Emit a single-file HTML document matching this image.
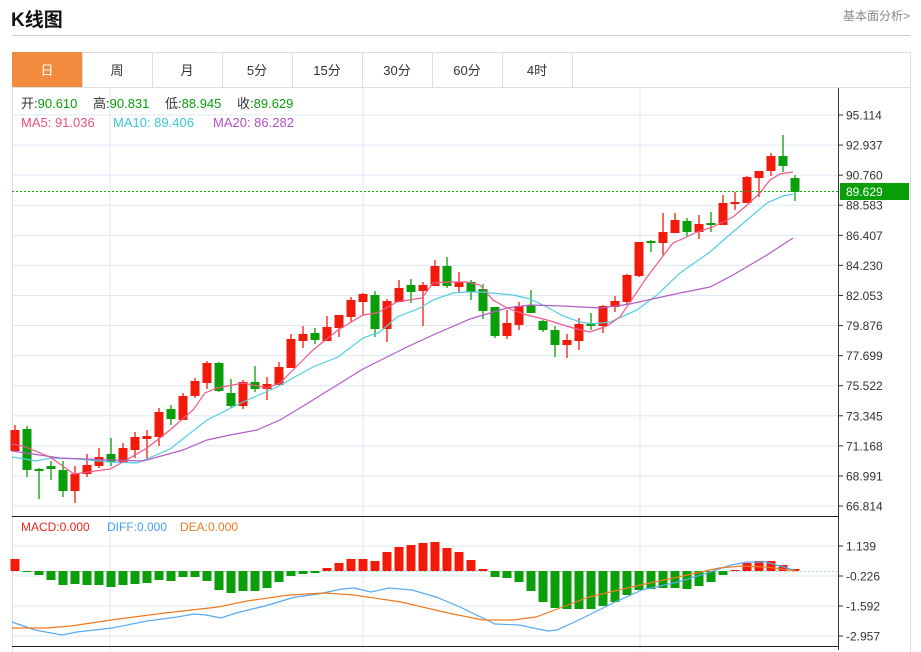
<!DOCTYPE html>
<html><head><meta charset="utf-8"><style>
body{margin:0;background:#fff;font-family:"Liberation Sans","Noto Sans CJK SC",sans-serif;}
#wrap{position:relative;width:921px;height:652px;overflow:hidden;}
.t{position:absolute;white-space:nowrap;}
</style></head><body><div id="wrap">
<div class="t" style="left:11px;top:5px;font-size:19px;font-weight:bold;color:#111;">K线图</div>
<div class="t" style="left:843px;top:7px;font-size:12px;color:#888;">基本面分析&gt;</div>
<div style="position:absolute;left:12px;top:35px;width:898px;height:1px;background:#ccc"></div>
<svg id="s" width="921" height="652" style="position:absolute;left:0;top:0" xmlns="http://www.w3.org/2000/svg" font-family="Liberation Sans, Noto Sans CJK SC, sans-serif"></svg>
</div>
<script>
const S=document.getElementById('s');let h='';
h+='<rect x="12.5" y="52.5" width="898" height="600" fill="none" stroke="#ddd"/>';
const tabs=['日','周','月','5分','15分','30分','60分','4时'];
tabs.forEach((t,i)=>{const x=12+i*70;
 h+=`<rect x="${x+0.5}" y="52.5" width="70" height="35" fill="${i==0?'#f28b3d':'#fff'}" stroke="${i==0?'#f28b3d':'#ddd'}"/>`;
 h+=`<text x="${x+35}" y="75" font-size="13" text-anchor="middle" fill="${i==0?'#fff':'#333'}">${t}</text>`;});
h+='<line x1="12" y1="87.5" x2="910" y2="87.5" stroke="#ddd"/>';
const labs=['95.114','92.937','90.760','88.583','86.407','84.230','82.053','79.876','77.699','75.522','73.345','71.168','68.991','66.814'];
labs.forEach((l,i)=>{const y=115+i*30.08;h+=`<line x1="12" y1="${y}" x2="838" y2="${y}" stroke="#dde8f2"/>`;
 h+=`<line x1="838" y1="${y}" x2="843" y2="${y}" stroke="#333"/><text x="846" y="${y+4.5}" font-size="12" fill="#333">${l}</text>`;});
[546,576,606,636].forEach((y,i)=>{h+=`<line x1="12" y1="${y}" x2="838" y2="${y}" stroke="#dde8f2"/><line x1="838" y1="${y}" x2="843" y2="${y}" stroke="#333"/><text x="846" y="${y+4.5}" font-size="12" fill="#333">${['1.139','-0.226','-1.592','-2.957'][i]}</text>`;});
[110,363,640].forEach(x=>{h+=`<line x1="${x}" y1="88" x2="${x}" y2="650" stroke="#dde8f2"/>`;});
h+='<line x1="838.5" y1="88" x2="838.5" y2="650" stroke="#333"/>';
h+='<line x1="12" y1="516.5" x2="838" y2="516.5" stroke="#222"/><line x1="12" y1="646.5" x2="838" y2="646.5" stroke="#222"/>';
const info=[['开:',21,'90.610'],['高:',93,'90.831'],['低:',165,'88.945'],['收:',237,'89.629']];
info.forEach(a=>{h+=`<text x="${a[1]}" y="108" font-size="13" fill="#333">${a[0]}<tspan fill="#0a9e0a">${a[2]}</tspan></text>`;});
h+='<text x="21" y="127" font-size="13" fill="#ee4f7e">MA5: 91.036</text><text x="113" y="127" font-size="13" fill="#3cc6dc">MA10: 89.406</text><text x="213" y="127" font-size="13" fill="#b052c8">MA20: 86.282</text>';
h+='<text x="21" y="531" font-size="12" fill="#e8281c">MACD:0.000</text><text x="107" y="531" font-size="12" fill="#4aa0ef">DIFF:0.000</text><text x="180" y="531" font-size="12" fill="#f07a20">DEA:0.000</text>';
const C=[[430,451,425,451,1],[429,470,426,477,0],[469,471,468,499,0],[466,469,461,480,0],[470,491,461,497,0],[474,491,466,503,1],[465,474,454,477,1],[457,466,448,468,1],[454,462,438,466,0],[448,462,443,463,1],[437,450,432,458,1],[436,439,430,460,1],[412,437,408,446,1],[409,419,405,425,0],[396,420,393,420,1],[381,396,378,398,1],[363,383,361,389,1],[363,391,362,392,0],[393,406,379,408,0],[382,406,380,409,1],[382,389,366,392,0],[384,389,377,400,1],[367,385,362,385,1],
[339,368,334,368,1],[334,341,326,348,1],[333,340,328,344,0],[327,341,316,341,1],[315,328,315,337,1],[300,317,297,322,1],[294,302,293,315,1],[295,329,291,337,0],[301,329,299,342,1],[288,302,280,302,1],[285,292,279,303,0],[285,291,282,326,1],[266,286,260,286,1],[266,286,257,288,0],[282,287,272,293,1],[282,292,280,300,0],[289,311,284,319,0],[307,336,307,338,0],[323,336,310,339,1],[306,325,302,330,1],[305,313,290,313,0],[321,330,320,332,0],[330,345,326,357,0],[340,345,334,358,1],[324,341,318,350,1],[323,326,313,330,0],[306,326,305,333,1],
[301,307,296,312,1],[275,302,274,304,1],[242,276,242,277,1],[241,243,240,252,0],[232,243,213,255,1],[220,233,213,233,1],[221,232,218,236,0],[224,232,215,239,1],[223,225,212,232,0],[203,225,195,225,1],[202,204,192,210,1],[177,203,176,203,1],[171,178,171,197,1],[156,171,153,176,1],[156,166,135,172,0],[178,192,175,201,0]];
const R='#f21a0a',G='#0a9e0a';
C.forEach((c,i)=>{const x=15+12*i,col=c[4]?R:G;
 h+=`<line x1="${x}" y1="${c[2]}" x2="${x}" y2="${c[3]}" stroke="${col}" stroke-width="1.3"/>`;
 h+=`<rect x="${x-4.5}" y="${c[0]}" width="9" height="${Math.max(1.5,c[1]-c[0])}" fill="${col}"/>`;});
function pl(p,col){h+=`<polyline points="${p}" fill="none" stroke="${col}" stroke-width="1.2"/>`;}
pl('12,457 37,461 50,458 77,459 110,462 137,463 170,449 207,420 227,410 243,402 277,387 300,374 313,367 338,357 363,338 380,332 397,317 420,308 433,300 453,293 467,292 480,292 513,295 530,299 547,307 563,316 580,322 593,324 610,322 637,310 657,295 680,273 710,252 727,237 747,220 767,203 783,196 793,194','#4fcfe0');
pl('12,451 60,458 110,460 143,461 183,450 207,440 230,435 257,430 280,420 300,408 363,369 407,347 433,335 470,319 507,308 530,305 563,306 600,308 630,304 657,298 680,293 710,287 733,275 767,255 793,238','#b45cc8');
pl('12,444 23,446 50,457 74,474 110,469 123,462 147,448 170,430 193,410 205,393 217,388 243,383 267,388 280,383 300,363 313,350 338,330 363,315 377,313 397,302 422,298 433,283 450,282 467,282 480,285 493,300 507,308 527,315 547,320 573,328 590,332 607,326 620,317 647,277 673,243 680,240 697,232 713,227 733,217 747,205 760,193 770,180 780,174 793,172','#f0598a');
h+='<line x1="12" y1="191.5" x2="838" y2="191.5" stroke="#10b010" stroke-dasharray="2,2"/>';
h+='<rect x="840" y="183" width="69" height="17" fill="#0a9e0a"/><text x="846" y="196" font-size="12" fill="#fff">89.629</text>';
h+='<line x1="12" y1="571.5" x2="838" y2="571.5" stroke="#a8d8ea" stroke-dasharray="2,2"/>';
const M=[559,572,575,580,585,584,585,585,587,585,584,583,580,581,577,577,581,590,593,591,591,588,582,576,574,573,568,563,559,559,561,552,547,545,543,542,548,552,560,569,577,578,582,591,602,608,609,609,609,606,602,595,590,589,588,588,589,586,582,575,570,563,561,561,565,569];
M.forEach((v,i)=>{const x=15+12*i;const y0=571;const col=v<y0?R:G;
 h+=`<rect x="${x-4.5}" y="${Math.min(v,y0)}" width="9" height="${Math.max(1,Math.abs(v-y0))}" fill="${col}"/>`;});
pl('12,622 35,630 62,635 77,632 112,628 147,621 177,617 194,614 206,615 221,618 236,613 265,606 295,597 318,594 342,589 354,588 371,592 389,588 412,590 436,597 460,607 495,624 519,625 548,631 557,630 583,618 613,603 642,590 678,582 707,573 731,565 748,562 766,562 784,567 796,571','#5aaaf0');
pl('12,628 47,628 71,626 118,619 165,613 218,607 247,601 289,595 324,593 354,595 401,602 448,613 483,620 513,620 536,617 560,608 589,597 636,586 678,577 719,568 742,566 766,567 796,571','#f07a20');
S.innerHTML=h;
</script>
</body></html>
